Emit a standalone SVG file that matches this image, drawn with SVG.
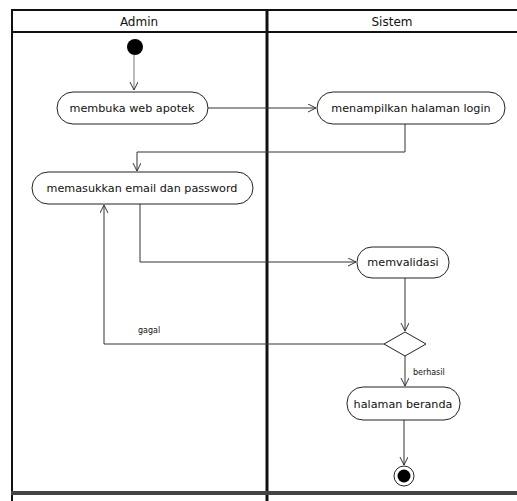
<svg xmlns="http://www.w3.org/2000/svg" width="517" height="501" viewBox="0 0 517 501">
<style>
.frame{stroke:#111;fill:none}
.node rect{fill:#fff;stroke:#222;stroke-width:1}
.t{font-family:"DejaVu Sans",sans-serif;font-size:11.2px;fill:#111;text-anchor:middle}
.hd{font-family:"DejaVu Sans",sans-serif;font-size:12px;fill:#111;text-anchor:middle}
.lbl{font-family:"DejaVu Sans",sans-serif;font-size:8px;fill:#111}
.c{fill:none;stroke:#333;stroke-width:1;marker-end:url(#a)}
</style>
<defs>
<marker id="a" markerWidth="10" markerHeight="10" refX="8" refY="4" orient="auto" markerUnits="userSpaceOnUse">
<path d="M0,0 L8,4 L0,8" fill="none" stroke="#333" stroke-width="1"/>
</marker>
</defs>
<rect width="517" height="501" fill="#fff"/>
<g id="lanes">
<line class="frame" x1="12" y1="9" x2="12" y2="501" stroke-width="2"/>
<line class="frame" x1="267" y1="9" x2="267" y2="501" stroke-width="3"/>
<line class="frame" x1="11" y1="10" x2="517" y2="10" stroke-width="2"/>
<line class="frame" x1="11" y1="32" x2="517" y2="32" stroke-width="2"/>
<line x1="11" y1="493" x2="517" y2="493" stroke="#444" stroke-width="4"/>
<text class="hd" x="139" y="26">Admin</text>
<text class="hd" x="392" y="26">Sistem</text>
</g>
<g id="connectors">
<line x1="134" y1="55" x2="134" y2="90" stroke="#777" fill="none" marker-end="url(#a)"/>
<path class="c" d="M208,108 H316"/>
<path class="c" d="M405,124 V152 H137 V171"/>
<path class="c" d="M140,204 V262 H356"/>
<path class="c" d="M405,278 V331"/>
<path class="c" d="M384,344 H104 V205"/>
<path class="c" d="M405,355 V386"/>
<path class="c" d="M404,420 V465"/>
<text class="lbl" x="138" y="333">gagal</text>
<text class="lbl" x="413" y="375">berhasil</text>
</g>
<g id="start"><circle cx="135" cy="47" r="8" fill="#000"/></g>
<g id="n1" class="node"><rect x="57" y="92" width="151" height="32" rx="16"/><text class="t" x="132" y="112">membuka web apotek</text></g>
<g id="n2" class="node"><rect x="317" y="92" width="188" height="32" rx="16"/><text class="t" x="411" y="112">menampilkan halaman login</text></g>
<g id="n3" class="node"><rect x="32" y="172" width="221" height="32" rx="16"/><text class="t" x="142" y="192">memasukkan email dan password</text></g>
<g id="n4" class="node"><rect x="357" y="247" width="92" height="31" rx="15"/><text class="t" x="403" y="266">memvalidasi</text></g>
<g id="decision"><polygon points="405,332 426,344 405,356 384,344" fill="#fff" stroke="#222"/></g>
<g id="n5" class="node"><rect x="347" y="387" width="113" height="33" rx="16"/><text class="t" x="403" y="408">halaman beranda</text></g>
<g id="end"><circle cx="404" cy="476" r="10" fill="#fff" stroke="#222"/><circle cx="404" cy="476" r="6.5" fill="#000"/></g>
</svg>
